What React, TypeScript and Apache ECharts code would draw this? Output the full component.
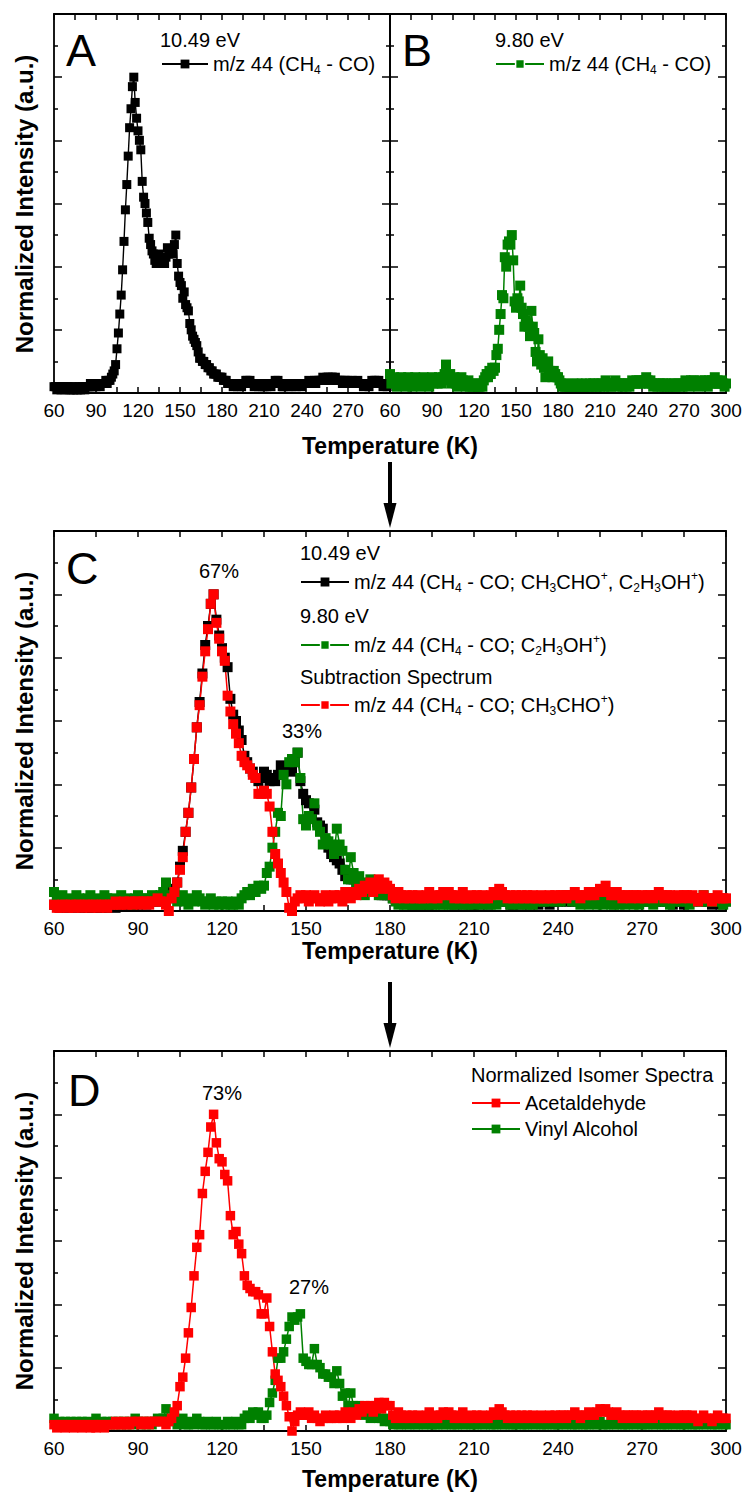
import React, { useEffect, useRef } from "react";
import * as echarts from "echarts";

// ---------- data (temperature grid: 60 K .. 300 K, 1 K step) ----------
const T_START = 60;
const T_STEP = 1;
const X_MIN = 60;
const X_MAX = 300;
const X_INTERVAL = 30;
const Y_MIN = 0;
const Y_MAX = 1.2;
const Y_INTERVAL = 0.2;

// m/z 44 at 10.49 eV (panels A and C, black)
const MZ44_1049 = [
  0.02, 0.02, 0.01, 0.02, 0.02, 0.01, 0.02, 0.02, 0.01, 0.02,
  0.02, 0.01, 0.01, 0.02, 0.01, 0.02, 0.01, 0.01, 0.02, 0.01,
  0.02, 0.02, 0.01, 0.02, 0.02, 0.02, 0.03, 0.02, 0.02, 0.03,
  0.02, 0.03, 0.03, 0.02, 0.03, 0.03, 0.03, 0.04, 0.03, 0.04,
  0.04, 0.05, 0.06, 0.07, 0.09, 0.14, 0.19, 0.25, 0.31, 0.39,
  0.48, 0.58, 0.66, 0.75, 0.84, 0.9, 0.97, 1.0, 0.92, 0.87,
  0.83, 0.8, 0.77, 0.67, 0.62, 0.6, 0.57, 0.54, 0.49, 0.47,
  0.45, 0.44, 0.42, 0.41, 0.42, 0.44, 0.43, 0.41, 0.42, 0.41,
  0.43, 0.46, 0.44, 0.45, 0.45, 0.44, 0.47, 0.5, 0.41, 0.37,
  0.35, 0.34, 0.3, 0.32, 0.28, 0.27, 0.26, 0.22, 0.2, 0.18,
  0.17, 0.16, 0.15, 0.13, 0.11, 0.11, 0.1, 0.1, 0.09, 0.09,
  0.08, 0.08, 0.07, 0.07, 0.06, 0.06, 0.06, 0.05, 0.05, 0.05,
  0.05, 0.04, 0.04, 0.04, 0.03, 0.03, 0.03, 0.03, 0.02, 0.03,
  0.03, 0.02, 0.03, 0.03, 0.02, 0.03, 0.03, 0.04, 0.04, 0.03,
  0.04, 0.03, 0.03, 0.02, 0.03, 0.03, 0.02, 0.03, 0.03, 0.02,
  0.02, 0.03, 0.02, 0.03, 0.03, 0.02, 0.03, 0.03, 0.04, 0.03,
  0.04, 0.03, 0.03, 0.02, 0.02, 0.03, 0.03, 0.02, 0.03, 0.03,
  0.02, 0.03, 0.03, 0.02, 0.03, 0.03, 0.03, 0.02, 0.03, 0.03,
  0.03, 0.03, 0.04, 0.03, 0.03, 0.03, 0.04, 0.03, 0.04, 0.04,
  0.04, 0.04, 0.05, 0.04, 0.04, 0.05, 0.05, 0.04, 0.05, 0.05,
  0.04, 0.05, 0.04, 0.04, 0.04, 0.04, 0.03, 0.04, 0.04, 0.03,
  0.04, 0.03, 0.03, 0.04, 0.03, 0.03, 0.03, 0.04, 0.03, 0.03,
  0.03, 0.02, 0.03, 0.03, 0.03, 0.02, 0.03, 0.04, 0.03, 0.04,
  0.04, 0.03, 0.04, 0.03, 0.03, 0.02, 0.03, 0.03, 0.02, 0.03,
  0.03,
];

// m/z 44 at 9.80 eV (panels B and C, green)
const MZ44_980 = [
  0.06, 0.03, 0.04, 0.05, 0.03, 0.02, 0.04, 0.03, 0.05, 0.04,
  0.03, 0.02, 0.04, 0.05, 0.03, 0.04, 0.02, 0.03, 0.05, 0.04,
  0.03, 0.04, 0.02, 0.03, 0.05, 0.03, 0.04, 0.03, 0.02, 0.04,
  0.05, 0.03, 0.04, 0.04, 0.03, 0.05, 0.04, 0.03, 0.05, 0.06,
  0.09, 0.05, 0.04, 0.06, 0.03, 0.04, 0.05, 0.03, 0.02, 0.04,
  0.03, 0.05, 0.04, 0.03, 0.02, 0.03, 0.04, 0.02, 0.03, 0.02,
  0.03, 0.02, 0.03, 0.02, 0.02, 0.03, 0.02, 0.04, 0.05, 0.06,
  0.05, 0.07, 0.06, 0.08, 0.07, 0.08, 0.12, 0.14, 0.2, 0.25,
  0.31, 0.3, 0.43, 0.4, 0.47, 0.48, 0.47, 0.5, 0.42, 0.29,
  0.27, 0.3, 0.29, 0.34, 0.27, 0.25, 0.21, 0.23, 0.22, 0.21,
  0.18, 0.26, 0.21, 0.19, 0.13, 0.1, 0.17, 0.12, 0.09, 0.11,
  0.08, 0.05, 0.09, 0.1, 0.07, 0.06, 0.05, 0.07, 0.06, 0.05,
  0.05, 0.04, 0.03, 0.02, 0.03, 0.02, 0.02, 0.03, 0.02, 0.02,
  0.02, 0.03, 0.02, 0.02, 0.03, 0.02, 0.02, 0.03, 0.02, 0.02,
  0.03, 0.02, 0.02, 0.03, 0.02, 0.03, 0.03, 0.02, 0.02, 0.03,
  0.02, 0.03, 0.03, 0.02, 0.04, 0.03, 0.02, 0.03, 0.02, 0.03,
  0.03, 0.04, 0.03, 0.02, 0.03, 0.03, 0.02, 0.03, 0.03, 0.02,
  0.03, 0.02, 0.03, 0.04, 0.03, 0.03, 0.04, 0.03, 0.04, 0.03,
  0.04, 0.03, 0.04, 0.05, 0.04, 0.03, 0.04, 0.03, 0.02, 0.03,
  0.03, 0.02, 0.03, 0.03, 0.02, 0.03, 0.02, 0.03, 0.03, 0.02,
  0.02, 0.03, 0.02, 0.03, 0.02, 0.03, 0.03, 0.02, 0.03, 0.02,
  0.03, 0.04, 0.03, 0.03, 0.02, 0.04, 0.03, 0.04, 0.03, 0.03,
  0.02, 0.03, 0.04, 0.03, 0.03, 0.04, 0.03, 0.02, 0.04, 0.03,
  0.04, 0.03, 0.05, 0.03, 0.04, 0.03, 0.03, 0.04, 0.03, 0.02,
  0.03,
];

// subtraction spectrum (panel C, red)
const SUBTRACTION = [
  0.02, 0.01, 0.01, 0.02, 0.02, 0.01, 0.02, 0.01, 0.02, 0.02,
  0.01, 0.02, 0.02, 0.01, 0.02, 0.02, 0.01, 0.02, 0.02, 0.01,
  0.02, 0.02, 0.03, 0.02, 0.02, 0.03, 0.02, 0.03, 0.02, 0.03,
  0.03, 0.02, 0.03, 0.03, 0.02, 0.03, 0.03, 0.04, 0.03, 0.03,
  0.02, 0.0, 0.04, 0.06, 0.09, 0.13, 0.17, 0.25, 0.31, 0.39,
  0.48, 0.58, 0.65, 0.74, 0.82, 0.89, 0.97, 1.0, 0.91, 0.86,
  0.82, 0.79, 0.68, 0.63, 0.59, 0.56, 0.53, 0.49, 0.47, 0.46,
  0.45, 0.43, 0.42, 0.37, 0.37, 0.38, 0.37, 0.33, 0.25, 0.18,
  0.15, 0.12, 0.09, 0.06, 0.01, 0.0, 0.03, 0.04, 0.05, 0.04,
  0.05, 0.03, 0.04, 0.05, 0.04, 0.03, 0.04, 0.05, 0.03, 0.04,
  0.05, 0.04, 0.05, 0.03, 0.06, 0.05, 0.04, 0.06, 0.05, 0.07,
  0.06, 0.08, 0.07, 0.09, 0.06, 0.08, 0.1, 0.07, 0.09, 0.08,
  0.07, 0.05, 0.04, 0.06, 0.05, 0.04, 0.05, 0.04, 0.05, 0.04,
  0.05, 0.04, 0.04, 0.05, 0.06, 0.04, 0.05, 0.04, 0.05, 0.06,
  0.05, 0.06, 0.05, 0.04, 0.05, 0.04, 0.06, 0.04, 0.04, 0.05,
  0.04, 0.05, 0.04, 0.05, 0.04, 0.04, 0.05, 0.06, 0.05, 0.07,
  0.06, 0.05, 0.04, 0.05, 0.04, 0.05, 0.04, 0.05, 0.04, 0.05,
  0.04, 0.05, 0.04, 0.04, 0.05, 0.04, 0.04, 0.05, 0.04, 0.05,
  0.04, 0.05, 0.05, 0.04, 0.05, 0.05, 0.06, 0.05, 0.04, 0.05,
  0.05, 0.06, 0.05, 0.05, 0.06, 0.07, 0.06, 0.08, 0.06, 0.05,
  0.05, 0.06, 0.05, 0.04, 0.05, 0.05, 0.04, 0.05, 0.05, 0.04,
  0.05, 0.04, 0.05, 0.05, 0.04, 0.05, 0.06, 0.05, 0.04, 0.05,
  0.05, 0.04, 0.04, 0.05, 0.04, 0.05, 0.05, 0.04, 0.05, 0.04,
  0.03, 0.04, 0.05, 0.04, 0.04, 0.03, 0.04, 0.05, 0.04, 0.04,
  0.04,
];

// normalized isomer spectra (panel D)
const ACETALDEHYDE = [
  0.02, 0.01, 0.02, 0.02, 0.01, 0.02, 0.02, 0.01, 0.02, 0.02,
  0.01, 0.02, 0.02, 0.01, 0.02, 0.01, 0.02, 0.02, 0.01, 0.02,
  0.02, 0.02, 0.03, 0.02, 0.02, 0.03, 0.02, 0.02, 0.03, 0.03,
  0.03, 0.02, 0.03, 0.03, 0.02, 0.03, 0.03, 0.03, 0.03, 0.03,
  0.02, 0.03, 0.04, 0.06, 0.08, 0.14, 0.17, 0.23, 0.31, 0.39,
  0.49, 0.58, 0.62, 0.75, 0.82, 0.88, 0.96, 1.0, 0.91, 0.86,
  0.85, 0.81, 0.79, 0.68, 0.62, 0.63, 0.59, 0.56, 0.49, 0.46,
  0.45, 0.44, 0.44, 0.43, 0.37, 0.37, 0.42, 0.33, 0.25, 0.18,
  0.16, 0.14, 0.11, 0.08, 0.045, 0.0, 0.03, 0.05, 0.06, 0.05,
  0.05, 0.06, 0.04, 0.05, 0.04, 0.03, 0.04, 0.05, 0.04, 0.04,
  0.05, 0.04, 0.05, 0.04, 0.06, 0.05, 0.04, 0.06, 0.05, 0.07,
  0.06, 0.08, 0.07, 0.08, 0.06, 0.08, 0.09, 0.07, 0.09, 0.08,
  0.08, 0.05, 0.04, 0.06, 0.05, 0.04, 0.05, 0.04, 0.05, 0.04,
  0.05, 0.04, 0.04, 0.05, 0.06, 0.04, 0.05, 0.04, 0.05, 0.06,
  0.05, 0.06, 0.05, 0.04, 0.05, 0.04, 0.06, 0.04, 0.04, 0.05,
  0.04, 0.05, 0.04, 0.05, 0.04, 0.04, 0.05, 0.06, 0.05, 0.07,
  0.06, 0.05, 0.04, 0.05, 0.04, 0.05, 0.04, 0.05, 0.04, 0.05,
  0.04, 0.05, 0.04, 0.04, 0.05, 0.04, 0.04, 0.05, 0.04, 0.05,
  0.04, 0.05, 0.05, 0.04, 0.05, 0.05, 0.06, 0.05, 0.04, 0.05,
  0.05, 0.06, 0.05, 0.05, 0.06, 0.07, 0.06, 0.07, 0.06, 0.05,
  0.05, 0.06, 0.05, 0.04, 0.05, 0.05, 0.04, 0.05, 0.05, 0.04,
  0.05, 0.04, 0.05, 0.05, 0.04, 0.05, 0.06, 0.05, 0.04, 0.05,
  0.05, 0.04, 0.04, 0.05, 0.04, 0.05, 0.05, 0.04, 0.05, 0.04,
  0.03, 0.04, 0.05, 0.04, 0.04, 0.03, 0.04, 0.05, 0.04, 0.04,
  0.04,
];

const VINYL_ALCOHOL = [
  0.04, 0.02, 0.03, 0.02, 0.03, 0.02, 0.03, 0.02, 0.03, 0.02,
  0.03, 0.02, 0.03, 0.02, 0.02, 0.04, 0.02, 0.03, 0.02, 0.03,
  0.02, 0.03, 0.02, 0.03, 0.02, 0.03, 0.02, 0.03, 0.02, 0.04,
  0.03, 0.02, 0.03, 0.02, 0.03, 0.02, 0.03, 0.04, 0.03, 0.04,
  0.07, 0.04, 0.03, 0.05, 0.02, 0.03, 0.04, 0.02, 0.02, 0.03,
  0.02, 0.04, 0.03, 0.02, 0.02, 0.03, 0.02, 0.02, 0.03, 0.02,
  0.02, 0.02, 0.03, 0.02, 0.02, 0.03, 0.02, 0.02, 0.04, 0.05,
  0.04, 0.06, 0.05, 0.06, 0.04, 0.04, 0.05, 0.09, 0.12, 0.16,
  0.23, 0.23, 0.25, 0.29, 0.33, 0.36, 0.35, 0.36, 0.37, 0.23,
  0.22, 0.21, 0.21, 0.26, 0.21, 0.2, 0.18, 0.18, 0.17, 0.17,
  0.15, 0.19, 0.15, 0.11, 0.12, 0.08, 0.12, 0.08, 0.07, 0.08,
  0.07, 0.05, 0.06, 0.04, 0.05, 0.05, 0.04, 0.04, 0.03, 0.04,
  0.03, 0.02, 0.03, 0.02, 0.02, 0.03, 0.02, 0.02, 0.03, 0.02,
  0.02, 0.03, 0.02, 0.02, 0.03, 0.02, 0.02, 0.02, 0.03, 0.02,
  0.02, 0.03, 0.02, 0.02, 0.02, 0.03, 0.02, 0.02, 0.03, 0.02,
  0.02, 0.02, 0.03, 0.02, 0.02, 0.03, 0.02, 0.02, 0.02, 0.03,
  0.02, 0.02, 0.03, 0.02, 0.02, 0.02, 0.03, 0.02, 0.02, 0.02,
  0.03, 0.02, 0.02, 0.03, 0.02, 0.02, 0.02, 0.03, 0.02, 0.02,
  0.02, 0.03, 0.02, 0.02, 0.03, 0.02, 0.02, 0.02, 0.03, 0.02,
  0.02, 0.02, 0.03, 0.02, 0.02, 0.03, 0.02, 0.02, 0.02, 0.03,
  0.02, 0.02, 0.03, 0.02, 0.02, 0.02, 0.03, 0.02, 0.02, 0.03,
  0.02, 0.02, 0.02, 0.03, 0.02, 0.02, 0.03, 0.02, 0.02, 0.02,
  0.03, 0.02, 0.02, 0.03, 0.02, 0.02, 0.02, 0.03, 0.02, 0.02,
  0.02, 0.03, 0.02, 0.02, 0.03, 0.02, 0.02, 0.02, 0.03, 0.02,
  0.02,
];

// ---------- labels ----------
const PANEL_LETTERS = ["A", "B", "C", "D"];
const PERCENT_LABELS = ["67%", "33%", "73%", "27%"];
const Y_TITLE = "Normalized Intensity (a.u.)";
const X_TITLE = "Temperature (K)";

const FONT = "'Liberation Sans', Arial, Helvetica, sans-serif";
const BLACK = "#000000";
const GREEN = "#008000";
const RED = "#ff0000";

const toPairs = (vals: number[]) => vals.map((v, i) => [T_START + i * T_STEP, v]);

const RICH = {
  sub: { fontSize: 12, lineHeight: 12, verticalAlign: "bottom", fontFamily: FONT, color: BLACK },
  sup: { fontSize: 12, lineHeight: 12, verticalAlign: "top", fontFamily: FONT, color: BLACK },
};

function buildOption() {
  const grids = [
    { left: 54, top: 14, width: 336, height: 379 },
    { left: 390, top: 14, width: 336, height: 379 },
    { left: 54, top: 531, width: 672, height: 380 },
    { left: 54, top: 1051, width: 672, height: 380 },
  ];
  const axisLine = { show: true, onZero: false, lineStyle: { color: BLACK, width: 1.8 } };
  const xAxes: any[] = [];
  const yAxes: any[] = [];
  grids.forEach((_, i) => {
    xAxes.push({
      type: "value",
      gridIndex: i,
      position: "bottom",
      min: X_MIN,
      max: X_MAX,
      interval: X_INTERVAL,
      axisLine,
      axisTick: { inside: true, length: 6, lineStyle: { color: BLACK, width: 1.5 } },
      minorTick: { show: true, splitNumber: 2, length: 6, lineStyle: { color: BLACK, width: 1.5 } },
      splitLine: { show: false },
      minorSplitLine: { show: false },
      axisLabel: {
        show: true,
        color: BLACK,
        fontSize: 19,
        fontFamily: FONT,
        margin: 8,
        showMaxLabel: i === 0 ? false : true,
      },
    });
    xAxes.push({
      type: "value",
      gridIndex: i,
      position: "top",
      min: X_MIN,
      max: X_MAX,
      interval: X_INTERVAL,
      axisLine,
      axisTick: { inside: true, length: 6, lineStyle: { color: BLACK, width: 1.5 } },
      minorTick: { show: true, splitNumber: 2, length: 6, lineStyle: { color: BLACK, width: 1.5 } },
      splitLine: { show: false },
      axisLabel: { show: false },
    });
    ["left", "right"].forEach((pos) => {
      yAxes.push({
        type: "value",
        gridIndex: i,
        position: pos,
        min: Y_MIN,
        max: Y_MAX,
        interval: Y_INTERVAL,
        axisLine,
        axisTick: { inside: true, length: 8, lineStyle: { color: BLACK, width: 1.5 } },
        minorTick: { show: true, splitNumber: 2, length: 4, lineStyle: { color: BLACK, width: 1.5 } },
        splitLine: { show: false },
        axisLabel: { show: false },
      });
    });
  });

  const line = (name: string, grid: number, vals: number[], color: string, size: number, width: number) => ({
    name,
    type: "line",
    xAxisIndex: grid * 2,
    yAxisIndex: grid * 2,
    data: toPairs(vals),
    symbol: "rect",
    symbolSize: size,
    showSymbol: true,
    showAllSymbol: true,
    lineStyle: { color, width },
    itemStyle: { color, borderWidth: 0 },
    emphasis: { disabled: true },
    clip: true,
  });

  const series = [
    line("A 10.49", 0, MZ44_1049, BLACK, 9, 1.4),
    line("B 9.80", 1, MZ44_980, GREEN, 10, 1.5),
    line("C 10.49", 2, MZ44_1049, BLACK, 10, 1.5),
    line("C 9.80", 2, MZ44_980, GREEN, 10, 1.5),
    line("C Subtraction", 2, SUBTRACTION, RED, 10, 1.5),
    line("D Vinyl Alcohol", 3, VINYL_ALCOHOL, GREEN, 9.5, 1.5),
    line("D Acetaldehyde", 3, ACETALDEHYDE, RED, 9.5, 1.5),
  ];

  const legendItem = (name: string, left: number, center: number, text: string, width = 46, gap = false) => ({
    show: true,
    left,
    top: center - 12,
    padding: 0,
    itemWidth: width,
    itemHeight: 11,
    itemGap: 6,
    selectedMode: false,
    data: [
      gap
        ? { name, itemStyle: { borderColor: "#ffffff", borderWidth: 1.5 } }
        : { name },
    ],
    formatter: () => text,
    textStyle: { color: BLACK, fontSize: 20, fontFamily: FONT, lineHeight: 24, rich: RICH },
  });

  const legends = [
    legendItem("A 10.49", 161, 64, "m/z 44 (CH{sub|4} - CO)"),
    legendItem("B 9.80", 495, 64, "m/z 44 (CH{sub|4} - CO)", 48, true),
    legendItem("C 10.49", 300, 582, "m/z 44 (CH{sub|4} - CO; CH{sub|3}CHO{sup|+}, C{sub|2}H{sub|3}OH{sup|+})", 48),
    legendItem("C 9.80", 300, 645, "m/z 44 (CH{sub|4} - CO; C{sub|2}H{sub|3}OH{sup|+})", 48, true),
    legendItem("C Subtraction", 300, 705, "m/z 44 (CH{sub|4} - CO; CH{sub|3}CHO{sup|+})", 48, true),
    legendItem("D Acetaldehyde", 471, 1103, "Acetaldehyde", 48),
    legendItem("D Vinyl Alcohol", 471, 1129, "Vinyl Alcohol", 48),
  ];

  const txt = (text: string, x: number, y: number, size: number, align = "left", extra: any = {}) => ({
    type: "text",
    x,
    y,
    silent: true,
    style: {
      text,
      fill: BLACK,
      fontSize: size,
      fontFamily: FONT,
      fontWeight: extra.bold ? "bold" : "normal",
      align,
      verticalAlign: "middle",
      textAlign: align,
      textVerticalAlign: "middle",
    },
    rotation: extra.rotation || 0,
  });

  const graphics: any[] = [
    // panel letters
    txt(PANEL_LETTERS[0], 66, 50, 45),
    txt(PANEL_LETTERS[1], 402, 50, 45),
    txt(PANEL_LETTERS[2], 66, 568, 45),
    txt(PANEL_LETTERS[3], 68, 1090, 45),
    // legend headers
    txt("10.49 eV", 160, 40, 20),
    txt("9.80 eV", 495, 40, 20),
    txt("10.49 eV", 300, 553, 20),
    txt("9.80 eV", 300, 616, 20),
    txt("Subtraction Spectrum", 300, 677, 20),
    txt("Normalized Isomer Spectra", 471, 1075, 20),
    // percentages
    txt(PERCENT_LABELS[0], 219, 571, 20, "center"),
    txt(PERCENT_LABELS[1], 302, 731, 20, "center"),
    txt(PERCENT_LABELS[2], 222, 1093, 20, "center"),
    txt(PERCENT_LABELS[3], 309, 1287, 20, "center"),
    // axis titles
    txt(Y_TITLE, 24, 204, 24, "center", { bold: true, rotation: Math.PI / 2 }),
    txt(Y_TITLE, 24, 721, 24, "center", { bold: true, rotation: Math.PI / 2 }),
    txt(Y_TITLE, 24, 1241, 24, "center", { bold: true, rotation: Math.PI / 2 }),
    txt(X_TITLE, 390, 446, 23, "center", { bold: true }),
    txt(X_TITLE, 390, 951, 23, "center", { bold: true }),
    txt(X_TITLE, 390, 1479, 23, "center", { bold: true }),
    // arrows
    { type: "line", silent: true, shape: { x1: 390, y1: 462, x2: 390, y2: 506 }, style: { stroke: BLACK, lineWidth: 4 } },
    { type: "polygon", silent: true, shape: { points: [[383.5, 503], [396.5, 503], [390, 528]] }, style: { fill: BLACK } },
    { type: "line", silent: true, shape: { x1: 390, y1: 982, x2: 390, y2: 1026 }, style: { stroke: BLACK, lineWidth: 4 } },
    { type: "polygon", silent: true, shape: { points: [[383.5, 1023], [396.5, 1023], [390, 1048]] }, style: { fill: BLACK } },
  ];

  return {
    animation: false,
    backgroundColor: "#ffffff",
    grid: grids.map((g) => ({ ...g, containLabel: false })),
    xAxis: xAxes,
    yAxis: yAxes,
    legend: legends,
    series,
    graphic: { elements: graphics },
  };
}

export default function App() {
  const ref = useRef<HTMLDivElement>(null);
  useEffect(() => {
    document.body.style.margin = "0";
    if (!ref.current) return;
    const chart = echarts.init(ref.current, undefined, { renderer: "svg" });
    chart.setOption(buildOption() as any);
    return () => chart.dispose();
  }, []);
  return <div ref={ref} style={{ width: 746, height: 1492 }} />;
}
